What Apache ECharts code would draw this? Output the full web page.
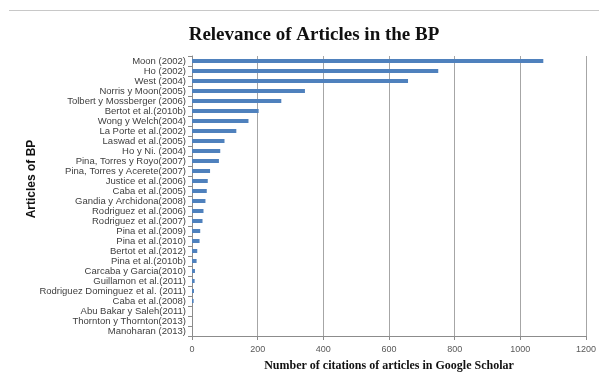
<!DOCTYPE html>
<html>
<head>
<meta charset="utf-8">
<script src="https://cdn.jsdelivr.net/npm/echarts@6/dist/echarts.min.js"></script>
<style>
  html, body { margin: 0; padding: 0; background: #ffffff; }
  #chart { width: 599px; height: 377px; }
</style>
</head>
<body>
<div id="chart"></div>
<script>
// Articles, listed from most to least cited
const articles = [
  'Moon (2002)', 'Ho (2002)', 'West (2004)', 'Norris y Moon(2005)',
  'Tolbert y Mossberger (2006)', 'Bertot et al.(2010b)', 'Wong y Welch(2004)',
  'La Porte et al.(2002)', 'Laswad et al.(2005)', 'Ho y Ni. (2004)',
  'Pina, Torres y Royo(2007)', 'Pina, Torres y Acerete(2007)', 'Justice et al.(2006)',
  'Caba et al.(2005)', 'Gandia y Archidona(2008)', 'Rodriguez et al.(2006)',
  'Rodriguez et al.(2007)', 'Pina et al.(2009)', 'Pina et al.(2010)',
  'Bertot et al.(2012)', 'Pina et al.(2010b)', 'Carcaba y Garcia(2010)',
  'Guillamon et al.(2011)', 'Rodriguez Dominguez et al. (2011)', 'Caba et al.(2008)',
  'Abu Bakar y Saleh(2011)', 'Thornton y Thornton(2013)', 'Manoharan (2013)'
];

// Citations in Google Scholar
const citations = [
  1070, 750, 658, 344,
  272, 203, 172,
  135, 99, 86,
  82, 55, 48,
  45, 41, 35,
  32, 25, 23,
  16, 14, 9,
  8, 6, 5,
  0, 0, 0
];

// Citation axis ticks
const citationTicks = [0, 200, 400, 600, 800, 1000, 1200];

const chart = echarts.init(document.getElementById('chart'), null, { renderer: 'canvas' });

chart.setOption({
  backgroundColor: '#ffffff',
  animation: false,
  title: {
    text: 'Relevance of Articles in the BP',
    left: 309,
    top: 21,
    textAlign: 'center',
    textStyle: {
      fontFamily: 'Liberation Serif',
      fontWeight: 'bold',
      fontSize: 19,
      color: '#111111'
    }
  },
  graphic: [
    {
      type: 'line',
      shape: { x1: 9, y1: 10.5, x2: 599, y2: 10.5 },
      style: { stroke: '#c8c8c8', lineWidth: 1 }
    },
    {
      type: 'text',
      x: 32,
      y: 179,
      rotation: Math.PI / 2,
      style: {
        text: 'Articles of BP',
        fontFamily: 'Liberation Sans',
        fontWeight: 'bold',
        fontSize: 12,
        fill: '#111111',
        align: 'center',
        verticalAlign: 'middle'
      }
    }
  ],
  grid: {
    left: 192,
    right: 11,
    top: 56,
    bottom: 41,
    containLabel: false
  },
  xAxis: {
    type: 'value',
    min: citationTicks[0],
    max: citationTicks[citationTicks.length - 1],
    interval: citationTicks[1] - citationTicks[0],
    name: 'Number of citations of articles in Google Scholar',
    nameLocation: 'middle',
    nameGap: 24,
    nameTextStyle: {
      fontFamily: 'Liberation Serif',
      fontWeight: 'bold',
      fontSize: 12,
      color: '#111111'
    },
    axisLine: { show: true, lineStyle: { color: '#8c8c8c', width: 1 } },
    axisTick: { show: true, length: 4, lineStyle: { color: '#8c8c8c' } },
    axisLabel: {
      margin: 9,
      fontFamily: 'Liberation Sans',
      fontSize: 9,
      color: '#595959',
      formatter: (v) => String(v)
    },
    splitLine: { show: true, lineStyle: { color: '#a6a6a6', width: 1 } }
  },
  yAxis: {
    type: 'category',
    data: articles,
    inverse: true,
    axisLine: { show: true, lineStyle: { color: '#8c8c8c', width: 1 } },
    axisTick: { show: true, length: 4, inside: false, interval: 0, lineStyle: { color: '#8c8c8c' } },
    axisLabel: {
      interval: 0,
      margin: 6,
      fontFamily: 'Liberation Sans',
      fontSize: 9.5,
      color: '#404040'
    },
    splitLine: { show: false }
  },
  series: [
    {
      type: 'bar',
      data: citations,
      barWidth: 4,
      itemStyle: { color: '#4f81bd' }
    }
  ]
});
</script>
</body>
</html>
